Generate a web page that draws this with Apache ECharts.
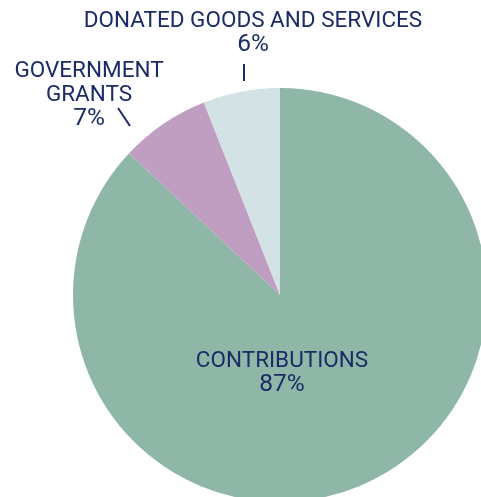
<!DOCTYPE html>
<html><head><meta charset="utf-8">
<script src="https://cdn.jsdelivr.net/npm/echarts@6/dist/echarts.min.js"></script>
<style>html,body{margin:0;padding:0;background:#fff}#c{width:481px;height:497px}</style>
</head><body><div id="c"></div>
<script>
const categories = ['CONTRIBUTIONS', 'GOVERNMENT GRANTS', 'DONATED GOODS AND SERVICES'];
const labelNames = ['CONTRIBUTIONS', 'GOVERNMENT\nGRANTS', 'DONATED GOODS AND SERVICES'];
const values = [87, 7, 6];
const colors = ['#8eb7a7', '#c09ec2', '#d2e2e5'];

const TEXT = '#1b2b66';
const FONT = "Roboto, 'Liberation Sans', sans-serif";

// label anchor positions (layout only)
const labelPos = [
  { x: 282, y: 373 },
  { x: 89, y: 95 },
  { x: 253, y: 33 }
];
const leaderPts = [
  null,
  [[118, 108], [130, 126]],
  [[244, 64], [244, 81]]
];

const chart = echarts.init(document.getElementById('c'), null, { renderer: 'canvas' });
chart.setOption({
  animation: false,
  backgroundColor: '#ffffff',
  series: [{
    type: 'pie',
    center: [280, 295],
    radius: [0, 207],
    startAngle: 90,
    clockwise: true,
    avoidLabelOverlap: false,
    itemStyle: { borderWidth: 0 },
    label: {
      show: true,
      position: 'outside',
      color: TEXT,
      fontFamily: FONT,
      fontWeight: 400,
      fontSize: 22.5,
      lineHeight: 24,
      align: 'center',
      formatter: p => labelNames[p.dataIndex].split('\n').map(s => '{n|' + s + '}').join('\n') + '\n{p|' + p.value + '%}',
      rich: {
        n: { fontFamily: FONT, fontWeight: 400, fontSize: 22.5, lineHeight: 24, color: TEXT, align: 'center' },
        p: { fontFamily: FONT, fontWeight: 400, fontSize: 24.5, lineHeight: 24, color: TEXT, align: 'center' }
      }
    },
    labelLine: {
      show: true,
      length: 15,
      length2: 0,
      lineStyle: { color: TEXT, width: 2 }
    },
    labelLayout: function (params) {
      const i = params.dataIndex;
      const res = { x: labelPos[i].x, y: labelPos[i].y, align: 'center', verticalAlign: 'middle' };
      if (leaderPts[i]) res.labelLinePoints = leaderPts[i];
      return res;
    },
    data: categories.map((c, i) => ({
      name: c,
      value: values[i],
      itemStyle: { color: colors[i] },
      label: i === 0 ? { position: 'inside' } : undefined,
      labelLine: i === 0 ? { show: false } : undefined
    }))
  }]
});
</script>
</body></html>
